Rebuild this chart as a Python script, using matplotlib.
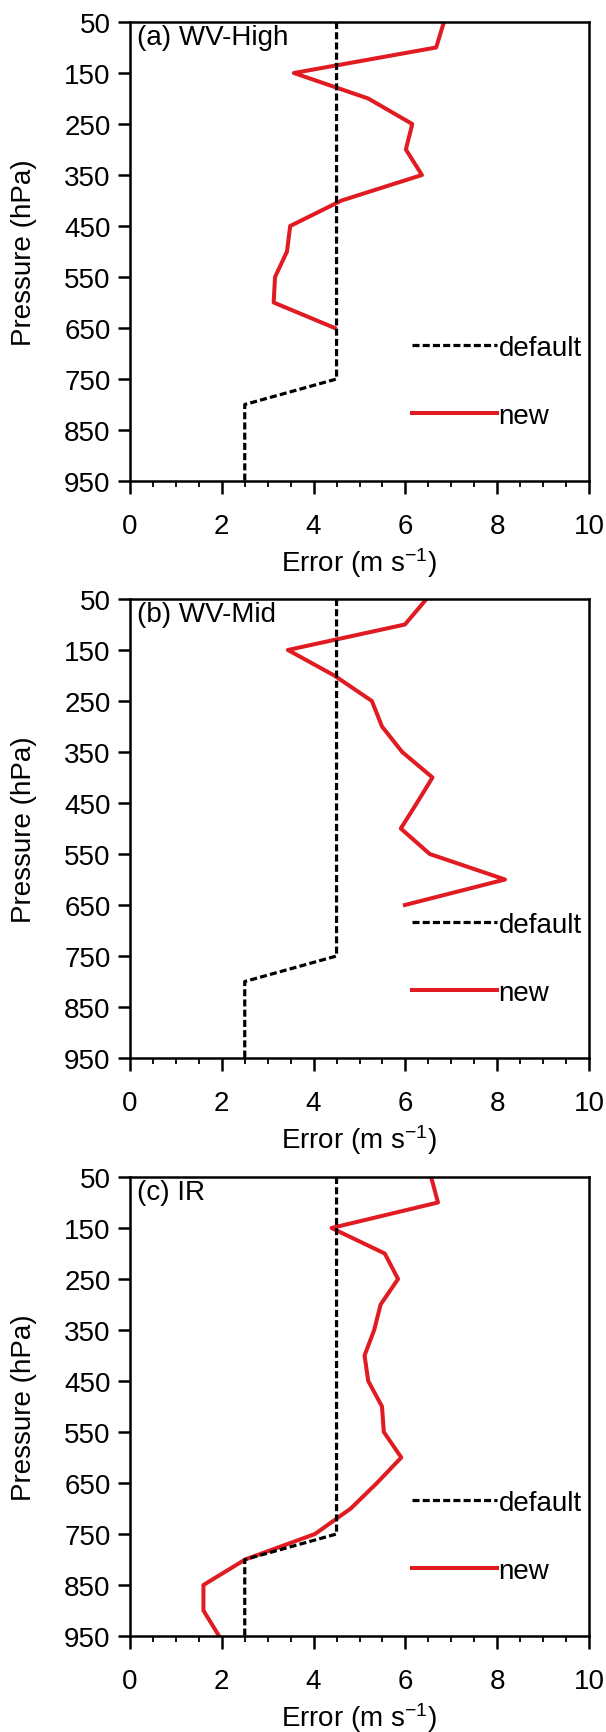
import matplotlib
matplotlib.use("Agg")
import matplotlib.pyplot as plt
from matplotlib.ticker import MultipleLocator

plt.rcParams['font.family'] = ['Liberation Sans', 'DejaVu Sans']
plt.rcParams['mathtext.fontset'] = 'custom'
plt.rcParams['mathtext.rm'] = 'Liberation Sans'
plt.rcParams['mathtext.it'] = 'Liberation Sans:italic'

# pressure levels (hPa)
levels = [50, 100, 150, 200, 250, 300, 350, 400, 450, 500,
          550, 600, 650, 700, 750, 800, 850, 900, 950]

# default observation error profile (same for all channels)
default_err = [4.5, 4.5, 4.5, 4.5, 4.5, 4.5, 4.5, 4.5, 4.5, 4.5,
               4.5, 4.5, 4.5, 4.5, 4.5, 2.5, 2.5, 2.5, 2.5]

# new error profiles
wv_high_lev = levels[:13]
wv_high_err = [6.84, 6.67, 3.57, 5.19, 6.15, 6.01, 6.36, 4.61, 3.49, 3.42,
               3.16, 3.13, 4.46]

wv_mid_lev = levels[:13]
wv_mid_err = [6.46, 5.99, 3.44, 4.45, 5.27, 5.49, 5.93, 6.59, 6.25, 5.90,
              6.53, 8.17, 5.99]

ir_lev = levels
ir_err = [6.56, 6.71, 4.39, 5.55, 5.84, 5.46, 5.32, 5.11, 5.19, 5.49,
          5.53, 5.91, 5.38, 4.81, 4.03, 2.51, 1.60, 1.60, 1.94]

panels = [("(a) WV-High", wv_high_lev, wv_high_err),
          ("(b) WV-Mid", wv_mid_lev, wv_mid_err),
          ("(c) IR", ir_lev, ir_err)]

W, H = 606, 1733
fig = plt.figure(figsize=(W / 100, H / 100), dpi=100)

left, size = 130, 459
tops = [23, 600, 1178]
red = '#e01b22'
fs = 20

for (title, plev, perr), top in zip(panels, tops):
    ax = fig.add_axes([left / W, 1 - (top + size) / H, size / W, size / H])
    ax.plot(default_err, levels, color='black', lw=2.3,
            dashes=(2.2, 1.0), label='default', zorder=3)
    ax.plot(perr, plev, color=red, lw=2.9, label='new', zorder=2)

    ax.set_xlim(0, 10)
    ax.set_ylim(950, 50)
    ax.set_xticks([0, 2, 4, 6, 8, 10])
    ax.xaxis.set_minor_locator(MultipleLocator(0.5))
    ax.set_yticks(list(range(50, 951, 100)))
    ax.tick_params(axis='x', which='major', direction='out', length=9,
                   width=1.8, pad=14, labelsize=fs)
    ax.tick_params(axis='x', which='minor', direction='out', length=4.5,
                   width=1.3)
    ax.tick_params(axis='y', which='major', direction='out', length=9,
                   width=1.8, pad=5, labelsize=fs)
    for sp in ax.spines.values():
        sp.set_linewidth(1.8)

    ax.set_xlabel(r'Error (m s$^{\mathrm{-1}}$)', fontsize=fs, va='center')
    ax.xaxis.set_label_coords(0.5, -0.177)
    ax.set_ylabel('Pressure (hPa)', fontsize=fs, va='center')
    ax.yaxis.set_label_coords(-0.231, 0.5)
    ax.text(0.015, 0.995, title, transform=ax.transAxes, ha='left',
            va='top', fontsize=fs)

    ax.legend(loc='upper left', bbox_to_anchor=(0.615, 0.318),
              frameon=False, fontsize=fs, handlelength=3.06,
              handletextpad=0.05, labelspacing=1.5, borderpad=0,
              borderaxespad=0)

fig.savefig('out.png', dpi=100)
